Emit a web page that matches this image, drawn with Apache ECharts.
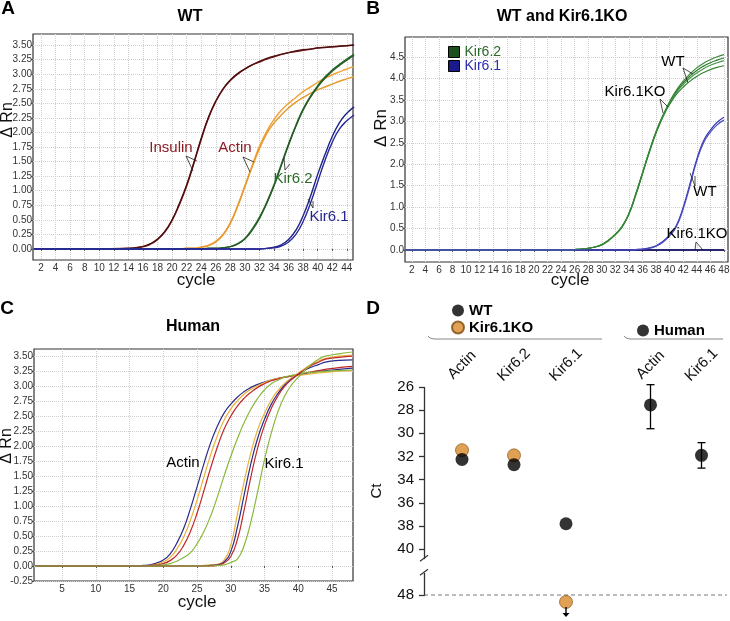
<!DOCTYPE html>
<html>
<head>
<meta charset="utf-8">
<script src="https://cdn.jsdelivr.net/npm/echarts@6.0.0/dist/echarts.min.js"></script>
<style>
    html, body { margin: 0; padding: 0; background: #fff; }
    #main { width: 730px; height: 621px; }
</style>
</head>
<body>
<div id="main"></div>
<script>
    // ---- panel A : WT ----
    var cyclesA = [1, 10, 14, 15, 16, 17, 18, 19, 20, 21, 22, 23, 24, 25, 26, 27, 28, 29, 30, 31, 32, 33, 34, 35, 36, 37, 38, 39, 40, 41, 42, 43, 44, 45];
    var insulinA1 = [0, 0, 0.01, 0.02, 0.04, 0.08, 0.16, 0.29, 0.49, 0.76, 1.08, 1.47, 1.88, 2.25, 2.53, 2.74, 2.89, 3.0, 3.09, 3.16, 3.21, 3.26, 3.3, 3.34, 3.37, 3.39, 3.41, 3.43, 3.45, 3.46, 3.47, 3.48, 3.49, 3.5];
    var insulinA2 = [0, 0, 0.01, 0.02, 0.04, 0.09, 0.17, 0.3, 0.5, 0.78, 1.1, 1.49, 1.9, 2.26, 2.54, 2.75, 2.9, 3.01, 3.09, 3.16, 3.22, 3.27, 3.31, 3.34, 3.37, 3.4, 3.42, 3.43, 3.45, 3.46, 3.47, 3.48, 3.49, 3.5];
    var actinA1 = [0, 0, 0, 0, 0, 0, 0, 0, 0, 0, 0.01, 0.01, 0.03, 0.06, 0.13, 0.25, 0.45, 0.74, 1.08, 1.43, 1.76, 2.02, 2.22, 2.38, 2.5, 2.6, 2.7, 2.78, 2.86, 2.93, 2.99, 3.04, 3.09, 3.13];
    var actinA2 = [0, 0, 0, 0, 0, 0, 0, 0, 0, 0, 0.01, 0.01, 0.03, 0.06, 0.12, 0.24, 0.44, 0.73, 1.07, 1.41, 1.72, 1.98, 2.16, 2.3, 2.42, 2.52, 2.6, 2.67, 2.73, 2.78, 2.83, 2.88, 2.92, 2.96];
    var kir62A1 = [0, 0, 0, 0, 0, 0, 0, 0, 0, 0, 0, 0, 0, 0.01, 0.01, 0.02, 0.04, 0.09, 0.18, 0.34, 0.54, 0.8, 1.1, 1.45, 1.8, 2.12, 2.4, 2.62, 2.8, 2.95, 3.07, 3.17, 3.26, 3.34];
    var kir62A2 = [0, 0, 0, 0, 0, 0, 0, 0, 0, 0, 0, 0, 0, 0.01, 0.01, 0.02, 0.04, 0.08, 0.17, 0.32, 0.52, 0.78, 1.08, 1.43, 1.78, 2.1, 2.38, 2.6, 2.78, 2.93, 3.05, 3.15, 3.24, 3.32];
    var kir61A1 = [0, 0, 0, 0, 0, 0, 0, 0, 0, 0, 0, 0, 0, 0, 0, 0, 0, 0, 0, 0, 0, 0.01, 0.03, 0.07, 0.16, 0.32, 0.57, 0.9, 1.28, 1.62, 1.93, 2.17, 2.33, 2.44];
    var kir61A2 = [0, 0, 0, 0, 0, 0, 0, 0, 0, 0, 0, 0, 0, 0, 0, 0, 0, 0, 0, 0, 0, 0.01, 0.02, 0.05, 0.12, 0.25, 0.47, 0.78, 1.15, 1.52, 1.83, 2.06, 2.2, 2.3];
    var xTicksA = [2, 4, 6, 8, 10, 12, 14, 16, 18, 20, 22, 24, 26, 28, 30, 32, 34, 36, 38, 40, 42, 44];
    var yTicksA = [0, 0.25, 0.5, 0.75, 1, 1.25, 1.5, 1.75, 2, 2.25, 2.5, 2.75, 3, 3.25, 3.5];

    // ---- panel B : WT and Kir6.1KO ----
    var cyclesB = [1, 24, 25, 26, 27, 28, 29, 30, 31, 32, 33, 34, 35, 36, 37, 38, 39, 40, 41, 42, 43, 44, 45, 46, 47, 48];
    var kir62B1 = [0, 0, 0, 0.01, 0.02, 0.04, 0.07, 0.13, 0.23, 0.37, 0.55, 0.85, 1.3, 1.8, 2.3, 2.76, 3.14, 3.46, 3.73, 3.94, 4.11, 4.25, 4.36, 4.44, 4.51, 4.56];
    var kir62B2 = [0, 0, 0, 0.01, 0.02, 0.04, 0.07, 0.13, 0.23, 0.37, 0.55, 0.85, 1.3, 1.8, 2.3, 2.76, 3.13, 3.44, 3.7, 3.9, 4.06, 4.19, 4.29, 4.37, 4.43, 4.48];
    var kir62B3 = [0, 0, 0, 0.01, 0.02, 0.04, 0.07, 0.12, 0.22, 0.36, 0.54, 0.84, 1.28, 1.78, 2.28, 2.74, 3.12, 3.42, 3.67, 3.86, 4.01, 4.13, 4.23, 4.31, 4.37, 4.42];
    var kir62B4 = [0, 0, 0, 0.01, 0.02, 0.04, 0.07, 0.12, 0.22, 0.36, 0.54, 0.84, 1.28, 1.78, 2.28, 2.73, 3.1, 3.4, 3.63, 3.8, 3.94, 4.05, 4.14, 4.21, 4.26, 4.3];
    var kir61WT1 = [0, 0, 0, 0, 0, 0, 0, 0, 0, 0, 0, 0, 0.01, 0.02, 0.05, 0.1, 0.2, 0.35, 0.58, 1.0, 1.55, 2.12, 2.55, 2.8, 2.98, 3.1];
    var kir61WT2 = [0, 0, 0, 0, 0, 0, 0, 0, 0, 0, 0, 0, 0.01, 0.02, 0.04, 0.09, 0.18, 0.33, 0.55, 0.96, 1.5, 2.08, 2.5, 2.75, 2.92, 3.03];
    var kir61KO = [0, 0, 0, 0, 0, 0, 0, 0, 0, 0, 0, 0, 0, 0, 0, 0, 0, 0, 0, 0, 0, 0, 0, 0, 0, 0];
    var xTicksB = [2, 4, 6, 8, 10, 12, 14, 16, 18, 20, 22, 24, 26, 28, 30, 32, 34, 36, 38, 40, 42, 44, 46, 48];
    var yTicksB = [0, 0.5, 1, 1.5, 2, 2.5, 3, 3.5, 4, 4.5];

    // ---- panel C : Human ----
    var cyclesC = [1, 15, 16, 17, 18, 19, 20, 21, 22, 23, 24, 25, 26, 27, 28, 29, 30, 31, 32, 33, 34, 35, 36, 37, 38, 39, 40, 41, 42, 43, 44, 46, 48];
    var actinNavyC = [0, 0, 0, 0.01, 0.02, 0.05, 0.1, 0.2, 0.38, 0.62, 0.95, 1.32, 1.7, 2.05, 2.33, 2.55, 2.7, 2.82, 2.91, 2.98, 3.03, 3.07, 3.1, 3.13, 3.15, 3.17, 3.19, 3.21, 3.23, 3.25, 3.26, 3.28, 3.3];
    var actinGoldC = [0, 0, 0, 0, 0.01, 0.03, 0.07, 0.14, 0.28, 0.48, 0.76, 1.1, 1.48, 1.85, 2.17, 2.43, 2.62, 2.76, 2.87, 2.95, 3.01, 3.06, 3.1, 3.13, 3.15, 3.17, 3.18, 3.19, 3.21, 3.22, 3.23, 3.25, 3.26];
    var actinRedC = [0, 0, 0, 0, 0.01, 0.02, 0.04, 0.09, 0.18, 0.34, 0.57, 0.88, 1.25, 1.63, 1.98, 2.28, 2.5, 2.67, 2.8, 2.9, 2.98, 3.04, 3.09, 3.12, 3.15, 3.17, 3.2, 3.22, 3.24, 3.26, 3.28, 3.31, 3.33];
    var actinGreenC = [0, 0, 0, 0, 0, 0.01, 0.02, 0.04, 0.08, 0.14, 0.22, 0.37, 0.57, 0.83, 1.15, 1.5, 1.83, 2.13, 2.4, 2.62, 2.8, 2.94, 3.04, 3.1, 3.15, 3.18, 3.2, 3.22, 3.23, 3.24, 3.25, 3.26, 3.27];
    var kirGoldC = [0, 0, 0, 0, 0, 0, 0, 0, 0, 0, 0, 0, 0.01, 0.02, 0.03, 0.1, 0.35, 0.88, 1.42, 1.9, 2.28, 2.55, 2.77, 2.93, 3.05, 3.14, 3.22, 3.3, 3.37, 3.42, 3.46, 3.5, 3.52];
    var kirNavyC = [0, 0, 0, 0, 0, 0, 0, 0, 0, 0, 0, 0, 0, 0.01, 0.02, 0.07, 0.24, 0.66, 1.2, 1.72, 2.14, 2.45, 2.7, 2.88, 3.02, 3.12, 3.2, 3.27, 3.32, 3.36, 3.4, 3.43, 3.44];
    var kirRedC = [0, 0, 0, 0, 0, 0, 0, 0, 0, 0, 0, 0, 0, 0, 0.01, 0.05, 0.16, 0.45, 0.95, 1.5, 1.98, 2.35, 2.63, 2.84, 3.0, 3.11, 3.2, 3.28, 3.35, 3.4, 3.45, 3.48, 3.5];
    var kirGreenC = [0, 0, 0, 0, 0, 0, 0, 0, 0, 0, 0, 0, 0, 0, 0.01, 0.02, 0.06, 0.12, 0.35, 0.75, 1.25, 1.78, 2.22, 2.58, 2.84, 3.02, 3.15, 3.27, 3.37, 3.45, 3.5, 3.54, 3.57];
    var xTicksC = [5, 10, 15, 20, 25, 30, 35, 40, 45];
    var yTicksC = [-0.25, 0, 0.25, 0.5, 0.75, 1, 1.25, 1.5, 1.75, 2, 2.25, 2.5, 2.75, 3, 3.25, 3.5];

    // ---- panel D : Ct values ----
    var mouseGenes = ['Actin', 'Kir6.2', 'Kir6.1'];
    var ctWT = [32.25, 32.7, 37.8];
    var ctKO = [31.45, 31.9, 48.6];
    var humanGenes = ['Actin', 'Kir6.1'];
    var ctHuman = [27.55, 31.9];
    var ctHumanLow = [25.8, 30.8];
    var ctHumanHigh = [29.6, 33.0];
    var ctTicks = [26, 28, 30, 32, 34, 36, 38, 40, 48];
    var ctBreak = [40.75, 46.1];

    var FONT = '"Liberation Sans", Arial, sans-serif';
    var chart = echarts.init(document.getElementById('main'));

    function pts(xs, ys) {
        return xs.map(function (x, i) { return [x, ys[i]]; });
    }

    function curve(name, xs, ys, color, idx, width) {
        return {
            name: name, type: 'line', xAxisIndex: idx, yAxisIndex: idx,
            data: pts(xs, ys), showSymbol: false, symbol: 'none',
            smooth: 0.5, silent: true,
            lineStyle: {color: color, width: width || 1.3},
            itemStyle: {color: color}
        };
    }

    function cycleAxis(idx, min, max, ticks) {
        return {
            type: 'value', gridIndex: idx, min: min, max: max,
            axisLine: {show: false},
            axisTick: {show: true, length: 2, customValues: ticks, lineStyle: {color: '#555'}},
            axisLabel: {customValues: ticks, fontSize: 10, color: '#333', margin: 3},
            splitLine: {show: true, lineStyle: {color: '#cfcfcf', type: 'dotted', width: 1}}
        };
    }

    function rnAxis(idx, min, max, ticks, digits) {
        return {
            type: 'value', gridIndex: idx, min: min, max: max,
            axisLine: {show: false},
            axisTick: {show: true, length: 2, customValues: ticks, lineStyle: {color: '#555'}},
            axisLabel: {
                customValues: ticks, fontSize: 10, color: '#333', margin: 1,
                formatter: function (v) { return v.toFixed(digits); }
            },
            splitLine: {show: true, lineStyle: {color: '#cfcfcf', type: 'dotted', width: 1}}
        };
    }

    function ctAxis(idx, visible) {
        return {
            type: 'value', gridIndex: idx, inverse: true, min: 26, max: 48,
            breaks: [{start: ctBreak[0], end: ctBreak[1], gap: 1.3}],
            breakArea: {show: false},
            show: visible, offset: 12,
            axisLine: {show: true, lineStyle: {color: '#333', width: 1.3}},
            axisTick: {show: true, length: 5, customValues: ctTicks, lineStyle: {color: '#333', width: 1.3}},
            axisLabel: {customValues: ctTicks, fontSize: 15, color: '#111', margin: 10},
            splitLine: {show: false},
            name: 'Ct', nameLocation: 'middle', nameGap: 40,
            nameTextStyle: {fontSize: 15, color: '#111'}
        };
    }

    function geneAxis(idx, genes) {
        return {
            type: 'category', gridIndex: idx, data: genes, position: 'top',
            axisLine: {show: false}, axisTick: {show: false},
            axisLabel: {rotate: -45, fontSize: 15, color: '#111', margin: 22, align: 'center', verticalAlign: 'middle'}
        };
    }

    function txt(x, y, s, color, size, bold, rot) {
        return {
            type: 'text', x: x, y: y, rotation: rot || 0, z: 100,
            style: {
                text: s, fill: color, font: (bold ? 'bold ' : '') + size + 'px ' + FONT,
                textAlign: 'center', textVerticalAlign: 'middle', align: 'center', verticalAlign: 'middle'
            }
        };
    }

    function leader(p1, apex, p2) {
        return {
            type: 'polyline', z: 100,
            shape: {points: [p1, apex, p2]},
            style: {stroke: '#222', lineWidth: 0.8, fill: null}
        };
    }

    var series = [
        curve('Insulin', cyclesA, insulinA1, '#7c1818', 0, 1.5),
        curve('Insulin', cyclesA, insulinA2, '#4b0f0f', 0, 1.3),
        curve('Actin', cyclesA, actinA1, '#f2a33a', 0, 1.5),
        curve('Actin', cyclesA, actinA2, '#e69a2e', 0, 1.5),
        curve('Kir6.2A', cyclesA, kir62A1, '#1f6b1f', 0, 1.5),
        curve('Kir6.2A', cyclesA, kir62A2, '#2a5a2a', 0, 1.3),
        curve('Kir6.1A', cyclesA, kir61A1, '#1e2488', 0, 1.4),
        curve('Kir6.1A', cyclesA, kir61A2, '#2a2a9a', 0, 1.4),

        curve('Kir6.1', cyclesB, kir61KO, '#1a1a6a', 1, 1.3),
        curve('Kir6.1', cyclesB, kir61KO, '#1a1a6a', 1, 1.3),
        curve('Kir6.2', cyclesB, kir62B1, '#3d8c3d', 1, 1.2),
        curve('Kir6.2', cyclesB, kir62B2, '#2e7a2e', 1, 1.2),
        curve('Kir6.2', cyclesB, kir62B3, '#4a994a', 1, 1.2),
        curve('Kir6.2', cyclesB, kir62B4, '#358535', 1, 1.2),
        curve('Kir6.1', cyclesB, kir61WT1, '#3a3ab4', 1, 1.2),
        curve('Kir6.1', cyclesB, kir61WT2, '#4a4ac0', 1, 1.2),

        curve('hActin', cyclesC, actinNavyC, '#2b2b8c', 2, 1.2),
        curve('hActin', cyclesC, actinGoldC, '#e8b23a', 2, 1.2),
        curve('hActin', cyclesC, actinRedC, '#c0282a', 2, 1.2),
        curve('hActin', cyclesC, actinGreenC, '#8ab83a', 2, 1.2),
        curve('hKir', cyclesC, kirGoldC, '#e8b23a', 2, 1.2),
        curve('hKir', cyclesC, kirNavyC, '#2b2b8c', 2, 1.2),
        curve('hKir', cyclesC, kirRedC, '#c0282a', 2, 1.2),
        curve('hKir', cyclesC, kirGreenC, '#8ab83a', 2, 1.2),

        {
            name: 'Kir6.1KO', type: 'scatter', xAxisIndex: 3, yAxisIndex: 3, data: ctKO,
            symbolSize: 13, clip: false, z: 3,
            itemStyle: {color: '#d98a2b', borderColor: '#7a4a10', borderWidth: 0.8},
            markPoint: {
                symbol: 'path://M2.4,0 L3.6,0 L3.6,6 L6,6 L3,10 L0,6 L2.4,6 Z',
                symbolSize: [7, 10], symbolOffset: [0, 17],
                label: {show: false}, itemStyle: {color: '#000'},
                data: [{coord: [mouseGenes[2], ctTicks[ctTicks.length - 1]]}]
            }
        },
        {
            name: 'WT', type: 'scatter', xAxisIndex: 3, yAxisIndex: 3, data: ctWT,
            symbolSize: 13, z: 4, itemStyle: {color: '#000'}
        },
        {
            name: 'HumanErr', type: 'custom', xAxisIndex: 4, yAxisIndex: 4, z: 2,
            data: humanGenes.map(function (g, i) { return [i, ctHumanLow[i], ctHumanHigh[i]]; }),
            encode: {x: 0, y: [1, 2]},
            renderItem: function (params, api) {
                var lo = api.coord([api.value(0), api.value(1)]);
                var hi = api.coord([api.value(0), api.value(2)]);
                var w = 4, st = {stroke: '#000', lineWidth: 1.3};
                return {
                    type: 'group', children: [
                        {type: 'line', shape: {x1: lo[0], y1: lo[1], x2: hi[0], y2: hi[1]}, style: st},
                        {type: 'line', shape: {x1: lo[0] - w, y1: lo[1], x2: lo[0] + w, y2: lo[1]}, style: st},
                        {type: 'line', shape: {x1: hi[0] - w, y1: hi[1], x2: hi[0] + w, y2: hi[1]}, style: st}
                    ]
                };
            }
        },
        {
            name: 'Human', type: 'scatter', xAxisIndex: 4, yAxisIndex: 4, data: ctHuman,
            symbolSize: 13, z: 4, itemStyle: {color: '#000'}
        }
    ];

    var option = {
        animation: false,
        textStyle: {fontFamily: FONT},
        grid: [
            {left: 33, top: 34, width: 320, height: 226, show: true, borderColor: '#333', borderWidth: 1.2, containLabel: false, outerBoundsMode: 'none'},
            {left: 405, top: 37, width: 323, height: 225, show: true, borderColor: '#333', borderWidth: 1.2, containLabel: false, outerBoundsMode: 'none'},
            {left: 34, top: 349, width: 319, height: 232, show: true, borderColor: '#333', borderWidth: 1.2, containLabel: false, outerBoundsMode: 'none'},
            {left: 436, top: 387, width: 156, height: 208, containLabel: false, outerBoundsMode: 'none'},
            {left: 625, top: 387, width: 102, height: 208, containLabel: false, outerBoundsMode: 'none'}
        ],
        xAxis: [
            cycleAxis(0, 0.9, 44.85, xTicksA),
            cycleAxis(1, 1, 48.6, xTicksB),
            cycleAxis(2, 0.85, 48.1, xTicksC),
            geneAxis(3, mouseGenes),
            geneAxis(4, humanGenes)
        ],
        yAxis: [
            rnAxis(0, -0.19, 3.69, yTicksA, 2),
            rnAxis(1, -0.28, 4.97, yTicksB, 1),
            rnAxis(2, -0.25, 3.62, yTicksC, 2),
            ctAxis(3, true),
            ctAxis(4, false)
        ],
        legend: [
            {
                left: 443, top: 40, orient: 'vertical', itemGap: 0, itemWidth: 11, itemHeight: 11,
                icon: 'rect', selectedMode: false, textStyle: {fontSize: 14},
                data: [
                    {name: 'Kir6.2', itemStyle: {color: '#1c4f1c', borderColor: '#000', borderWidth: 1}, textStyle: {color: '#2c6a2c'}},
                    {name: 'Kir6.1', itemStyle: {color: '#1a1a8c', borderColor: '#000', borderWidth: 1}, textStyle: {color: '#2e2eb0'}}
                ]
            },
            {
                left: 446, top: 298, orient: 'vertical', itemGap: 2, itemWidth: 12, itemHeight: 12,
                icon: 'circle', selectedMode: false,
                textStyle: {fontSize: 15, fontWeight: 'bold', color: '#000'},
                data: ['WT', 'Kir6.1KO']
            },
            {
                left: 632, top: 318, itemWidth: 12, itemHeight: 12, icon: 'circle', selectedMode: false,
                textStyle: {fontSize: 15, fontWeight: 'bold', color: '#000'},
                data: ['Human']
            }
        ],
        series: series
    };
    chart.setOption(option);

    // annotations, titles, panel letters
    var y40 = chart.convertToPixel({yAxisIndex: 3}, 40);
    var y48 = chart.convertToPixel({yAxisIndex: 3}, 48);
    var axisX = 424;
    var g = [
        txt(8, 9, 'A', '#000', 19, true), txt(373, 9, 'B', '#000', 19, true),
        txt(7, 309, 'C', '#000', 19, true), txt(373, 309, 'D', '#000', 19, true),
        txt(190, 17, 'WT', '#000', 16, true),
        txt(562, 17, 'WT and Kir6.1KO', '#000', 16, true),
        txt(193, 327, 'Human', '#000', 16, true),
        txt(196, 280, 'cycle', '#111', 17), txt(570, 280, 'cycle', '#111', 17), txt(197, 602, 'cycle', '#111', 17),
        txt(8, 120, 'Δ Rn', '#111', 16, false, Math.PI / 2),
        txt(381, 128, 'Δ Rn', '#111', 17, false, Math.PI / 2),
        txt(7, 446, 'Δ Rn', '#111', 16, false, Math.PI / 2),

        txt(171, 148, 'Insulin', '#8b1c24', 15), leader([193, 171], [186, 156], [197, 161]),
        txt(235, 148, 'Actin', '#8b1c24', 15), leader([250, 172], [243, 157], [254, 162]),
        txt(293, 179, 'Kir6.2', '#2b6b2b', 15), leader([284, 158], [285, 170], [290, 164]),
        txt(329, 217, 'Kir6.1', '#252590', 15), leader([308, 199], [313, 208], [313, 201]),

        txt(673, 62, 'WT', '#000', 15), leader([688, 83], [683, 68], [693, 74]),
        txt(635, 92, 'Kir6.1KO', '#000', 15), leader([663, 113], [660, 99], [668, 107]),
        txt(705, 192, 'WT', '#000', 15), leader([690, 173], [695, 186], [695, 176]),
        txt(697, 234, 'Kir6.1KO', '#000', 15), leader([695, 250], [696, 242], [703, 250]),

        txt(183, 463, 'Actin', '#000', 15), txt(284, 464, 'Kir6.1', '#000', 15),

        {type: 'polyline', z: 50, shape: {points: [[428, 336], [430, 338], [434, 339], [602, 339]]}, style: {stroke: '#888', lineWidth: 1, fill: null}},
        {type: 'polyline', z: 50, shape: {points: [[624, 336], [626, 338], [630, 339], [723, 339]]}, style: {stroke: '#888', lineWidth: 1, fill: null}},
        {type: 'line', z: 1, shape: {x1: axisX, y1: y48, x2: 727, y2: y48}, style: {stroke: '#555', lineWidth: 0.8, lineDash: [4, 3]}},
        {type: 'line', z: 61, shape: {x1: axisX - 4, y1: y40 + 12, x2: axisX + 4, y2: y40 + 6}, style: {stroke: '#333', lineWidth: 1.2}},
        {type: 'line', z: 61, shape: {x1: axisX - 4, y1: y40 + 26, x2: axisX + 4, y2: y40 + 20}, style: {stroke: '#333', lineWidth: 1.2}}
    ];
    chart.setOption({graphic: g});
</script>
</body>
</html>
